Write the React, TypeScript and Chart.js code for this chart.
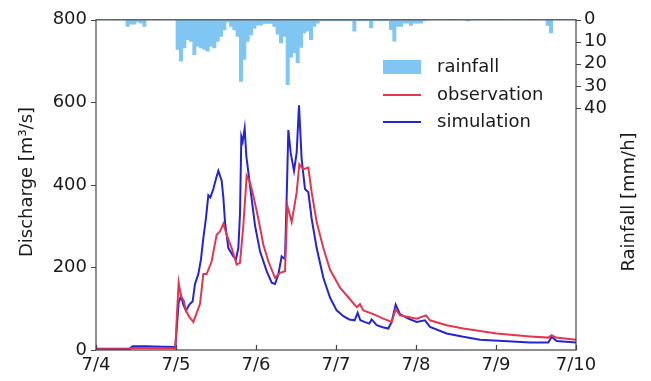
import React, { useEffect, useRef } from 'react';
import { Chart, registerables } from 'chart.js';
Chart.register(...registerables);

// x axis: hours since 7/4 00:00
const xTickLabels = ['7/4', '7/5', '7/6', '7/7', '7/8', '7/9', '7/10'];
const xTickHours = [0, 24, 48, 72, 96, 120, 144];
const dischargeTicks = [0, 200, 400, 600, 800];
const rainTicks = [0, 10, 20, 30, 40];

// hourly rainfall [mm/h], hour 0..143
const rainfall = [
  0, 0, 0, 0, 0, 0, 0, 0, 0,
  3, 2, 2, 1, 1.5, 3,
  0, 0, 0, 0, 0, 0, 0, 0, 0,
  13.5, 18.8, 12.8, 9, 9.8, 15.8, 12, 12.8, 13.5, 14.3, 12, 12.8, 9.8, 7.6, 4.6, 1, 3, 4.6, 7.6, 28, 18, 9.8, 6.9,
  3.9, 2.4, 2.4, 1.6, 1.6, 1.6, 3, 6.5, 10.5, 7.5, 29.5, 17, 15, 19.5, 12.5, 6, 5, 9, 3, 1.5,
  0.4, 0.4, 0.4, 0.4, 0.4, 0.4, 0.4, 0.4, 0.4, 0.4,
  5.2,
  0.4, 0.4, 0.4, 0.4,
  3.7,
  0.4, 0.4, 0.4, 0.4, 0.4,
  4.5, 9.7, 3, 3, 1.5, 1.5, 2.5, 1.5, 1.5, 1.5, 0.5,
  0, 0, 0, 0, 0, 0, 0, 0, 0, 0, 0, 0,
  0.5,
  0, 0, 0, 0, 0, 0, 0, 0, 0, 0, 0, 0, 0, 0, 0, 0, 0, 0, 0, 0, 0, 0, 0,
  2.5, 6,
  0, 0, 0, 0, 0, 0, 0,
];

const obsHours = [0, 10, 11, 23.8, 24.3, 24.8, 25.5, 26.3, 27, 28, 29.2, 30, 31.2, 32.2, 33.2, 34.7, 35.5, 36.2, 37.2, 38.2, 39.2, 40.7, 42.2, 43.2, 44.2, 45.2, 46.2, 47.2, 48.7, 50.2, 51.7, 53.7, 55.2, 56.7, 57.4, 58.7, 60.2, 61, 62.2, 63.7, 64.7, 66.2, 68.2, 70.2, 73.2, 76.2, 78.2, 79.2, 80.2, 83.2, 86.2, 88.7, 89.9, 91.2, 96.2, 99, 100.2, 105.2, 110.2, 120.2, 130.2, 135.7, 136.7, 138, 144];
const obsFlow = [2, 2, 5, 4, 90, 163, 130, 120, 95, 80, 68, 85, 112, 184, 184, 215, 250, 279, 287, 306, 279, 247, 207, 211, 302, 422, 406, 374, 318, 255, 215, 175, 187, 191, 350, 310, 382, 450, 438, 442, 382, 310, 247, 195, 151, 123, 104, 111, 96, 87, 76, 68, 99, 84, 76, 84, 72, 60, 52, 40, 33, 30, 36, 30, 25];

const simHours = [0, 10, 11, 15, 20, 23.8, 24.3, 24.8, 25.5, 26.2, 27, 28, 29, 29.7, 30.7, 31.5, 32.2, 33, 33.7, 34.3, 35.2, 36, 36.7, 37.7, 38.2, 38.7, 39.7, 41.2, 42, 42.7, 43.2, 43.6, 44, 44.6, 45.1, 46.2, 47.7, 49.2, 51.2, 52.7, 53.7, 54.7, 55.7, 56.7, 57.3, 57.7, 58.4, 59.4, 60.2, 60.9, 61.7, 62.7, 63.7, 64.7, 66.2, 68.2, 70.2, 72.2, 74.2, 76, 77.6, 78.5, 79.3, 80.5, 82, 82.7, 84.2, 86, 87.7, 88.7, 89.9, 91.2, 93.7, 96.2, 98.7, 100.2, 105.2, 110.2, 115.2, 122.2, 130.2, 135.7, 136.7, 138.2, 144];
const simFlow = [3, 3, 9, 9, 8, 7, 60, 115, 131, 110, 95, 110, 118, 160, 184, 220, 271, 320, 375, 370, 390, 415, 434, 410, 370, 310, 247, 227, 220, 247, 330, 517, 505, 537, 470, 398, 302, 239, 191, 163, 160, 183, 227, 220, 400, 533, 478, 434, 478, 593, 462, 390, 382, 318, 247, 175, 127, 96, 82, 74, 72, 90, 72, 68, 64, 74, 60, 55, 52, 68, 110, 87, 76, 68, 72, 56, 40, 32, 25, 22, 18, 18, 32, 22, 18];

const FONT = "'DejaVu Sans', sans-serif";
const RED = '#e5364f';
const BLUE = '#2424d2';
const RAIN = '#80c6f2';
const AXIS = '#444444';
const TEXT = '#1a1a1a';

const decorPlugin = {
  id: 'decor',
  afterDraw(chart: any) {
    const { ctx, chartArea: a, scales } = chart;
    const y = scales.y;
    const x = scales.x;
    const y2 = scales.y2;
    ctx.save();
    ctx.strokeStyle = AXIS;
    ctx.lineWidth = 1.2;
    ctx.strokeRect(a.left, a.top, a.right - a.left, a.bottom - a.top);
    ctx.beginPath();
    dischargeTicks.forEach((v) => {
      const py = Math.round(y.getPixelForValue(v)) + 0.5;
      ctx.moveTo(a.left - 5, py);
      ctx.lineTo(a.left, py);
    });
    xTickHours.forEach((v) => {
      const px = Math.round(x.getPixelForValue(v)) + 0.5;
      ctx.moveTo(px, a.bottom);
      ctx.lineTo(px, a.bottom - 5);
    });
    rainTicks.forEach((v) => {
      const py = Math.round(y2.getPixelForValue(v)) + 0.5;
      ctx.moveTo(a.right, py);
      ctx.lineTo(a.right + 5, py);
    });
    ctx.stroke();

    // axis titles
    ctx.fillStyle = TEXT;
    ctx.font = `18px ${FONT}`;
    ctx.textAlign = 'center';
    ctx.textBaseline = 'middle';
    ctx.save();
    ctx.translate(27, 182);
    ctx.rotate(-Math.PI / 2);
    ctx.fillText('Discharge [m³/s]', 0, 0);
    ctx.restore();
    ctx.save();
    ctx.translate(629, 202);
    ctx.rotate(-Math.PI / 2);
    ctx.fillText('Rainfall [mm/h]', 0, 0);
    ctx.restore();

    // legend
    const lx0 = 383;
    const lx1 = 421;
    const tx = 437;
    const rows = [67, 95, 122];
    ctx.fillStyle = RAIN;
    ctx.fillRect(lx0, rows[0] - 7, lx1 - lx0, 14);
    ctx.lineWidth = 2;
    ctx.strokeStyle = RED;
    ctx.beginPath();
    ctx.moveTo(lx0, rows[1]);
    ctx.lineTo(lx1, rows[1]);
    ctx.stroke();
    ctx.strokeStyle = BLUE;
    ctx.beginPath();
    ctx.moveTo(lx0, rows[2]);
    ctx.lineTo(lx1, rows[2]);
    ctx.stroke();
    ctx.fillStyle = TEXT;
    ctx.textAlign = 'left';
    ctx.fillText('rainfall', tx, rows[0]);
    ctx.fillText('observation', tx, rows[1]);
    ctx.fillText('simulation', tx, rows[2]);
    ctx.restore();
  },
};

export default function App() {
  const ref = useRef<HTMLCanvasElement | null>(null);
  useEffect(() => {
    document.body.style.margin = '0';
    const canvas = ref.current;
    if (!canvas) return;
    const chart = new Chart(canvas, {
      type: 'line',
      data: {
        datasets: [
          {
            type: 'bar',
            label: 'rainfall',
            data: rainfall.map((v, h) => ({ x: h + 0.5, y: v })),
            yAxisID: 'y2',
            backgroundColor: RAIN,
            borderWidth: 0,
            barPercentage: 1,
            categoryPercentage: 1,
            grouped: false,
          } as any,
          {
            type: 'line',
            label: 'observation',
            data: obsHours.map((t, i) => ({ x: t, y: obsFlow[i] })),
            yAxisID: 'y',
            borderColor: RED,
            borderWidth: 2,
            pointRadius: 0,
            tension: 0,
          },
          {
            type: 'line',
            label: 'simulation',
            data: simHours.map((t, i) => ({ x: t, y: simFlow[i] })),
            yAxisID: 'y',
            borderColor: BLUE,
            borderWidth: 2,
            pointRadius: 0,
            tension: 0,
          },
        ],
      },
      options: {
        responsive: false,
        animation: false,
        devicePixelRatio: 1,
        layout: { padding: { top: 15, left: 0, right: 0, bottom: 0 }, autoPadding: false },
        plugins: { legend: { display: false }, tooltip: { enabled: false } },
        scales: {
          x: {
            type: 'linear',
            min: 0,
            max: 144,
            offset: false,
            grid: { display: false, drawTicks: false },
            border: { display: false },
            afterBuildTicks: (s: any) => {
              s.ticks = xTickHours.map((v) => ({ value: v }));
            },
            ticks: {
              autoSkip: false,
              maxRotation: 0,
              padding: 5,
              color: TEXT,
              font: { family: FONT, size: 18 },
              callback: (v: any) => xTickLabels[xTickHours.indexOf(Number(v))],
            },
            afterFit: (s: any) => {
              s.height = 31;
            },
          },
          y: {
            type: 'linear',
            position: 'left',
            min: 0,
            max: 800,
            grid: { display: false, drawTicks: false },
            border: { display: false },
            afterBuildTicks: (s: any) => {
              s.ticks = dischargeTicks.map((v) => ({ value: v }));
            },
            ticks: { padding: 9, color: TEXT, font: { family: FONT, size: 18 } },
            afterFit: (s: any) => {
              s.width = 96;
            },
          },
          y2: {
            type: 'linear',
            position: 'right',
            min: 0,
            max: 150,
            reverse: true,
            grid: { display: false, drawTicks: false },
            border: { display: false },
            afterBuildTicks: (s: any) => {
              s.ticks = rainTicks.map((v) => ({ value: v }));
            },
            ticks: { padding: 8, color: TEXT, font: { family: FONT, size: 18 } },
            afterFit: (s: any) => {
              s.width = 75;
            },
          },
        },
      },
      plugins: [decorPlugin],
    } as any);
    return () => chart.destroy();
  }, []);
  return (
    <div style={{ width: 651, height: 381, background: '#fff' }}>
      <canvas ref={ref} width={651} height={381} style={{ display: 'block' }} />
    </div>
  );
}
